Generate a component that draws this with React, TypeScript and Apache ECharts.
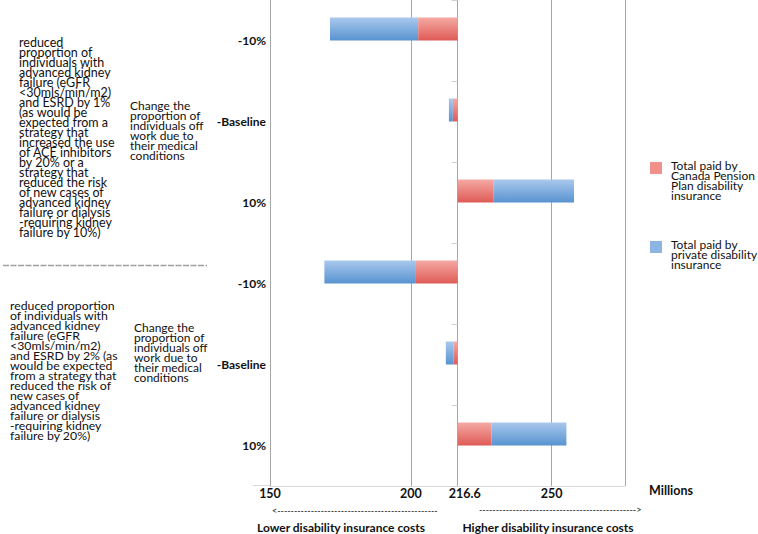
import React, { useEffect, useRef } from "react";
import * as echarts from "echarts";

// ---- data ----
const categories = ["-10%", "-Baseline", "10%", "-10%", "-Baseline", "10%"];
const baselineCost = 216.6; // millions
// signed change vs. baseline (millions)
const cppDelta = [-14.0, -1.7, 12.8, -14.8, -1.5, 12.0];
const privateDelta = [-31.3, -1.4, 28.5, -32.5, -2.7, 26.6];
const xTickLabels = [150, 200, 216.6, 250];
const xMin = 150;
const xMax = 276;

const cppName = "Total paid by Canada Pension Plan disability insurance";
const privName = "Total paid by private disability insurance";

const para1 =
  "reduced\nproportion of\nindividuals with\nadvanced kidney\nfailure (eGFR\n<30mls/min/m2)\nand ESRD by 1%\n(as would be\nexpected from a\nstrategy that\nincreased the use\nof ACE inhibitors\nby 20% or a\nstrategy that\nreduced the risk\nof new cases of\nadvanced kidney\nfailure or dialysis\n-requiring kidney\nfailure by 10%)";
const para2 =
  "reduced proportion\nof individuals with\nadvanced kidney\nfailure (eGFR\n<30mls/min/m2)\nand ESRD by 2% (as\nwould be expected\nfrom a strategy that\nreduced the risk of\nnew cases of\nadvanced kidney\nfailure or dialysis\n-requiring kidney\nfailure by 20%)";
const midText =
  "Change the\nproportion of\nindividuals off\nwork due to\ntheir medical\nconditions";

const FONT = "Lato, 'Noto Sans', sans-serif";

export default function App() {
  const ref = useRef<HTMLDivElement>(null);
  useEffect(() => {
    if (!ref.current) return;
    const chart = echarts.init(ref.current, null, { renderer: "svg" });

    const gridLeft = 270;
    const gridRight = 133;
    const plotWidth = 758 - gridLeft - gridRight;

    const baseData = categories.map((_, i) =>
      cppDelta[i] < 0 ? baselineCost + cppDelta[i] + privateDelta[i] : baselineCost
    );
    const blueLeft = categories.map((_, i) => (privateDelta[i] < 0 ? -privateDelta[i] : 0));
    const redData = categories.map((_, i) => Math.abs(cppDelta[i]));
    const blueRight = categories.map((_, i) => (privateDelta[i] > 0 ? privateDelta[i] : 0));

    const red = new echarts.graphic.LinearGradient(0, 0, 0, 1, [
      { offset: 0, color: "#f5a9a4" },
      { offset: 1, color: "#df5b56" },
    ]);
    const blue = new echarts.graphic.LinearGradient(0, 0, 0, 1, [
      { offset: 0, color: "#a9c8ed" },
      { offset: 1, color: "#5893d0" },
    ]);

    const barW = 23;
    const axisOffset = -((baselineCost - xMin) / (xMax - xMin)) * plotWidth;

    const txt = (x: number, y: number, text: string, extra: any = {}) => ({
      type: "text",
      x,
      y,
      style: {
        text,
        fontFamily: FONT,
        fontSize: 12,
        lineHeight: 10,
        fill: "#111",
        verticalAlign: "top",
        ...extra,
      },
    });

    chart.setOption({
      animation: false,
      grid: { left: gridLeft, right: gridRight, top: 0, bottom: 48, containLabel: false },
      xAxis: {
        type: "value",
        min: xMin,
        max: xMax,
        interval: 50,
        axisLine: { show: true, lineStyle: { color: "#d9d9d9", width: 1 } },
        axisTick: { show: false },
        splitLine: { show: true, lineStyle: { color: "#a6a6a6", width: 1 } },
        axisLabel: {
          customValues: xTickLabels,
          margin: 1,
          fontFamily: FONT,
          fontWeight: "bold",
          fontSize: 12.5,
          color: "#111",
          formatter: (v: number) => (v === baselineCost ? "{s|" + v + "}" : String(v)),
          rich: {
            s: {
              padding: [0, 0, 0, 14],
              fontFamily: FONT,
              fontWeight: "bold",
              fontSize: 12.5,
              color: "#111",
            },
          },
        },
      },
      yAxis: [
        {
          type: "category",
          data: categories,
          inverse: true,
          position: "left",
          axisLine: { show: false },
          axisTick: { show: false },
          axisLabel: {
            fontFamily: FONT,
            fontWeight: "bold",
            fontSize: 12,
            color: "#111",
            margin: 4,
          },
        },
        {
          type: "category",
          data: categories,
          inverse: true,
          position: "left",
          offset: axisOffset,
          axisLine: { show: true, lineStyle: { color: "#a6a6a6", width: 1 } },
          axisTick: { show: true, length: 6, lineStyle: { color: "#d0d0d0" } },
          axisLabel: { show: false },
        },
      ],
      series: [
        {
          name: "base",
          type: "bar",
          stack: "cost",
          barWidth: barW,
          barGap: "0%",
          data: baseData,
          itemStyle: { color: "transparent" },
          silent: true,
        },
        {
          name: privName,
          type: "bar",
          stack: "cost",
          barWidth: barW,
          data: blueLeft,
          itemStyle: { color: blue },
        },
        {
          name: cppName,
          type: "bar",
          stack: "cost",
          barWidth: barW,
          data: redData,
          itemStyle: { color: red },
        },
        {
          name: privName,
          type: "bar",
          stack: "cost",
          barWidth: barW,
          data: blueRight,
          itemStyle: { color: blue },
        },
        {
          name: "spacer",
          type: "bar",
          stack: "spacer",
          barWidth: barW,
          barGap: "0%",
          data: categories.map(() => 0),
          itemStyle: { color: "transparent" },
          silent: true,
        },
      ],
      graphic: [
        txt(19, 37, para1, { fontSize: 12.5 }),
        txt(10, 300, para2, { fontSize: 12.3 }),
        txt(130, 100, midText),
        txt(134, 322, midText),
        {
          type: "line",
          shape: { x1: 3, y1: 265.5, x2: 207, y2: 265.5 },
          style: { stroke: "#a0a0a0", lineWidth: 1.5, lineDash: [6, 1.5] },
        },
        {
          type: "line",
          shape: { x1: 253, y1: 485.5, x2: 270, y2: 485.5 },
          style: { stroke: "#d9d9d9", lineWidth: 1 },
        },
        {
          type: "rect",
          shape: { x: 650, y: 162, width: 12, height: 12 },
          style: { fill: "#f2908b" },
        },
        txt(671, 160, "Total paid by\nCanada Pension\nPlan disability\ninsurance"),
        {
          type: "rect",
          shape: { x: 650, y: 241, width: 12, height: 12 },
          style: { fill: "#8db4e2" },
        },
        txt(671, 239, "Total paid by\nprivate disability\ninsurance"),
        txt(671, 483, "Millions", { fontWeight: "bold", fontSize: 12.5, lineHeight: 14, align: "center" }),
        txt(272, 505, "<" + "-".repeat(48), { fontSize: 9, lineHeight: 10 }),
        txt(479, 504, "-".repeat(47) + ">", { fontSize: 9, lineHeight: 10 }),
        txt(341, 520, "Lower disability insurance costs", {
          fontWeight: "bold",
          fontSize: 12,
          lineHeight: 14,
          align: "center",
        }),
        txt(548, 520, "Higher disability insurance costs", {
          fontWeight: "bold",
          fontSize: 12,
          lineHeight: 14,
          align: "center",
        }),
      ],
    });
    return () => chart.dispose();
  }, []);
  return (
    <div
      ref={ref}
      style={{ position: "fixed", left: 0, top: 0, width: 758, height: 534, background: "#fff" }}
    />
  );
}
